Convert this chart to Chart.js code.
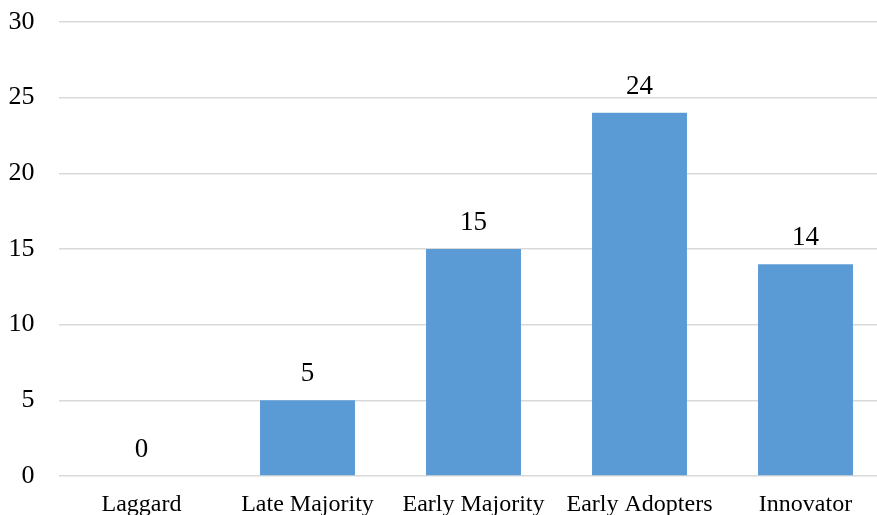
<!DOCTYPE html>
<html>
<head>
<meta charset="utf-8">
<script src="https://cdn.jsdelivr.net/npm/chart.js@4"></script>
<style>
  html, body { margin: 0; padding: 0; background: #ffffff; overflow: hidden; }
  #wrap { width: 877px; height: 515px; overflow: hidden; position: relative; }
  #box { width: 890px; height: 535px; position: absolute; left: 0; top: 0; }
</style>
</head>
<body>
<div id="wrap"><div id="box"><canvas id="c"></canvas></div></div>
<script>
const categories = ["Laggard", "Late Majority", "Early Majority", "Early Adopters", "Innovator"];
const values = [0, 5, 15, 24, 14];
const yTicks = [0, 5, 10, 15, 20, 25, 30];

const FONT = "'Liberation Serif', 'Times New Roman', serif";
const PLOT_LEFT = 58.5, PLOT_TOP = 22, PLOT_BOTTOM = 476, PLOT_RIGHT = 888.5;
const CANVAS_W = 890, CANVAS_H = 535;

const valueLabels = {
  id: 'valueLabels',
  afterDatasetsDraw(chart) {
    const ctx = chart.ctx;
    ctx.save();
    ctx.font = "27px " + FONT;
    ctx.fillStyle = "#000000";
    ctx.textAlign = "center";
    ctx.textBaseline = "alphabetic";
    chart.getDatasetMeta(0).data.forEach((el, i) => {
      ctx.fillText(String(values[i]), el.x, el.y - 19);
    });
    ctx.restore();
  }
};

new Chart(document.getElementById('c'), {
  type: 'bar',
  data: {
    labels: categories,
    datasets: [{
      data: values,
      backgroundColor: '#5B9BD5',
      borderWidth: 0,
      barPercentage: 0.572,
      categoryPercentage: 1.0
    }]
  },
  options: {
    responsive: true,
    maintainAspectRatio: false,
    animation: false,
    devicePixelRatio: 1,
    layout: { padding: { top: PLOT_TOP, left: 0, right: CANVAS_W - PLOT_RIGHT, bottom: 0 } },
    plugins: { legend: { display: false }, tooltip: { enabled: false } },
    scales: {
      x: {
        grid: { display: false, drawTicks: false },
        border: { display: false },
        ticks: { color: '#000000', font: { family: FONT, size: 24 }, padding: 14, maxRotation: 0, autoSkip: false },
        afterFit(axis) {
          axis.height = CANVAS_H - PLOT_BOTTOM;
          axis.paddingLeft = 0; axis.paddingRight = 0;
        }
      },
      y: {
        min: 0, max: 30,
        afterBuildTicks(axis) { axis.ticks = yTicks.map(v => ({ value: v })); },
        grid: { color: '#d9d9d9', lineWidth: 1.5, drawTicks: false },
        border: { display: false },
        ticks: { color: '#000000', font: { family: FONT, size: 26 }, padding: 24 },
        afterFit(axis) {
          axis.width = PLOT_LEFT;
          axis.paddingTop = 0; axis.paddingBottom = 0;
        }
      }
    }
  },
  plugins: [valueLabels]
});
</script>
</body>
</html>
